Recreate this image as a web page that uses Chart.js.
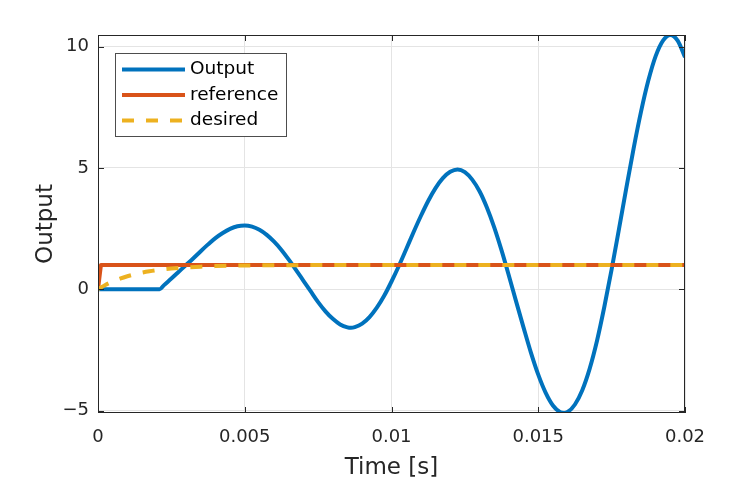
<!DOCTYPE html>
<html>
<head>
<meta charset="utf-8">
<script src="https://cdn.jsdelivr.net/npm/chart.js@4.4.1/dist/chart.umd.min.js"></script>
<style>
  html, body { margin: 0; padding: 0; background: #ffffff; }
  canvas { display: block; }
</style>
</head>
<body>
<canvas id="c" width="756" height="480"></canvas>
<script>
// ---- data ----
const outTime = [0, 0.0021, 0.00225, 0.0025, 0.00275, 0.003, 0.00325, 0.0035, 0.00375, 0.004,
  0.00425, 0.0045, 0.00475, 0.005, 0.00525, 0.0055, 0.00575, 0.006, 0.00625, 0.0065,
  0.00675, 0.007, 0.00725, 0.0075, 0.00775, 0.008, 0.00825, 0.0085, 0.00862, 0.00875,
  0.009, 0.00925, 0.0095, 0.00975, 0.01, 0.01025, 0.0105, 0.01075, 0.011, 0.01125,
  0.0115, 0.01175, 0.012, 0.01225, 0.0125, 0.01275, 0.013, 0.01325, 0.0135, 0.01375,
  0.014, 0.01425, 0.0145, 0.01475, 0.015, 0.01525, 0.0155, 0.01575, 0.01588, 0.016,
  0.01625, 0.0165, 0.01675, 0.017, 0.01725, 0.0175, 0.01775, 0.018, 0.01825, 0.0185,
  0.01875, 0.019, 0.01925, 0.0195, 0.01975, 0.02];
const outValues = [0, 0, 0.17, 0.44, 0.72, 1.00, 1.28, 1.57, 1.85, 2.11,
  2.32, 2.49, 2.60, 2.63, 2.58, 2.45, 2.24, 1.96, 1.62, 1.22,
  0.79, 0.35, -0.09, -0.53, -0.91, -1.22, -1.45, -1.57, -1.59, -1.56,
  -1.42, -1.15, -0.76, -0.27, 0.32, 0.96, 1.65, 2.35, 3.02, 3.64,
  4.17, 4.58, 4.84, 4.94, 4.83, 4.52, 4.04, 3.37, 2.55, 1.60,
  0.56, -0.52, -1.58, -2.61, -3.52, -4.26, -4.79, -5.07, -5.10, -5.06,
  -4.75, -4.16, -3.28, -2.13, -0.73, 0.82, 2.48, 4.17, 5.81, 7.31,
  8.60, 9.61, 10.25, 10.48, 10.25, 9.57];

const refTime = [0, 0.0001, 0.02];
const refValues = [0, 1, 1];

const desTime = [0, 0.00025, 0.0005, 0.00075, 0.001, 0.00125, 0.0015, 0.00175, 0.002, 0.0025,
  0.003, 0.0035, 0.004, 0.005, 0.006, 0.007, 0.008, 0.01, 0.02];
const desValues = [0, 0.175, 0.319, 0.438, 0.537, 0.618, 0.685, 0.740, 0.785, 0.854,
  0.901, 0.932, 0.954, 0.979, 0.990, 0.995, 0.998, 1.0, 1.0];

const seriesNames = ['Output', 'reference', 'desired'];
const xTicks = [0, 0.005, 0.01, 0.015, 0.02];
const xTickLabels = ['0', '0.005', '0.01', '0.015', '0.02'];
const yTicks = [-5, 0, 5, 10];
const yTickLabels = ['\u22125', '0', '5', '10'];
const xMin = 0, xMax = 0.02, yMin = -5.1, yMax = 10.48;
const xTitle = 'Time [s]';
const yTitle = 'Output';

// ---- styling ----
const FONT = "'DejaVu Sans', sans-serif";
const AXIS_COLOR = '#262626';
const GRID_COLOR = '#e4e4e4';
const TICK_LEN = 6;
const LINE_W = 4;

const toPoints = (xs, ys) => xs.map((x, i) => ({ x: x, y: ys[i] }));

const framePlugin = {
  id: 'frameAndLegend',
  afterDatasetsDraw(chart) {
    const { ctx, chartArea: a, scales } = chart;
    const xs = scales.x, ys = scales.y;
    ctx.save();
    // axes box
    ctx.strokeStyle = AXIS_COLOR;
    ctx.lineWidth = 1;
    ctx.strokeRect(a.left + 0.5, a.top + 0.5, a.right - a.left - 1, a.bottom - a.top - 1);
    // inward tick marks on all four sides
    ctx.beginPath();
    xs.ticks.forEach(t => {
      const px = Math.round(xs.getPixelForValue(t.value)) + 0.5;
      ctx.moveTo(px, a.bottom); ctx.lineTo(px, a.bottom - TICK_LEN);
      ctx.moveTo(px, a.top); ctx.lineTo(px, a.top + TICK_LEN);
    });
    ys.ticks.forEach(t => {
      const py = Math.round(ys.getPixelForValue(t.value)) + 0.5;
      ctx.moveTo(a.left, py); ctx.lineTo(a.left + TICK_LEN, py);
      ctx.moveTo(a.right, py); ctx.lineTo(a.right - TICK_LEN, py);
    });
    ctx.stroke();

    // legend box (inside the axes, top-left)
    const lx = 115.5, ly = 53.5, lw = 171, lh = 83;
    ctx.fillStyle = '#ffffff';
    ctx.fillRect(lx, ly, lw, lh);
    ctx.strokeStyle = '#4d4d4d';
    ctx.lineWidth = 1;
    ctx.strokeRect(lx, ly, lw, lh);
    ctx.font = "18.5px " + FONT;
    ctx.textBaseline = 'middle';
    ctx.textAlign = 'left';
    chart.data.datasets.forEach((ds, i) => {
      const rowY = 69.5 + i * 25.5;
      ctx.save();
      ctx.strokeStyle = ds.borderColor;
      ctx.lineWidth = ds.borderWidth;
      ctx.setLineDash(ds.borderDash || []);
      ctx.beginPath();
      ctx.moveTo(122, rowY);
      ctx.lineTo(185, rowY);
      ctx.stroke();
      ctx.restore();
      ctx.fillStyle = '#000000';
      ctx.fillText(ds.label, 190, rowY);
    });
    ctx.restore();
  }
};

new Chart(document.getElementById('c'), {
  type: 'line',
  data: {
    datasets: [
      {
        label: seriesNames[0],
        data: toPoints(outTime, outValues),
        borderColor: '#0072BD',
        borderWidth: LINE_W,
        cubicInterpolationMode: 'monotone',
        order: 3
      },
      {
        label: seriesNames[1],
        data: toPoints(refTime, refValues),
        borderColor: '#D95319',
        borderWidth: LINE_W,
        tension: 0,
        order: 2
      },
      {
        label: seriesNames[2],
        data: toPoints(desTime, desValues),
        borderColor: '#EDB120',
        borderWidth: LINE_W,
        borderDash: [12, 12],
        cubicInterpolationMode: 'monotone',
        order: 1
      }
    ]
  },
  options: {
    responsive: false,
    animation: false,
    devicePixelRatio: 1,
    layout: { padding: { top: 35, right: 71, left: 0, bottom: 0 } },
    elements: { point: { radius: 0 }, line: { borderCapStyle: 'butt', borderJoinStyle: 'round' } },
    plugins: {
      legend: { display: false },
      tooltip: { enabled: false }
    },
    scales: {
      x: {
        type: 'linear',
        min: xMin,
        max: xMax,
        afterBuildTicks: (scale) => { scale.ticks = xTicks.map(v => ({ value: v })); },
        afterFit: (scale) => { scale.height = 67; },
        ticks: {
          callback: (value, index) => xTickLabels[index],
          font: { family: FONT, size: 18 },
          color: AXIS_COLOR,
          padding: 14,
          maxRotation: 0,
          autoSkip: false
        },
        grid: { color: GRID_COLOR, lineWidth: 1, drawTicks: false },
        border: { display: false },
        title: {
          display: true,
          text: xTitle,
          font: { family: FONT, size: 23 },
          color: AXIS_COLOR,
          padding: { top: 0, bottom: -2 }
        }
      },
      y: {
        type: 'linear',
        min: yMin,
        max: yMax,
        afterBuildTicks: (scale) => { scale.ticks = yTicks.map(v => ({ value: v })); },
        afterFit: (scale) => { scale.width = 98; },
        ticks: {
          callback: (value, index) => yTickLabels[index],
          font: { family: FONT, size: 18 },
          color: AXIS_COLOR,
          padding: 9,
          autoSkip: false
        },
        grid: { color: GRID_COLOR, lineWidth: 1, drawTicks: false },
        border: { display: false },
        title: {
          display: true,
          text: yTitle,
          font: { family: FONT, size: 23 },
          color: AXIS_COLOR,
          padding: { top: 32, bottom: 0 }
        }
      }
    }
  },
  plugins: [framePlugin]
});
</script>
</body>
</html>
